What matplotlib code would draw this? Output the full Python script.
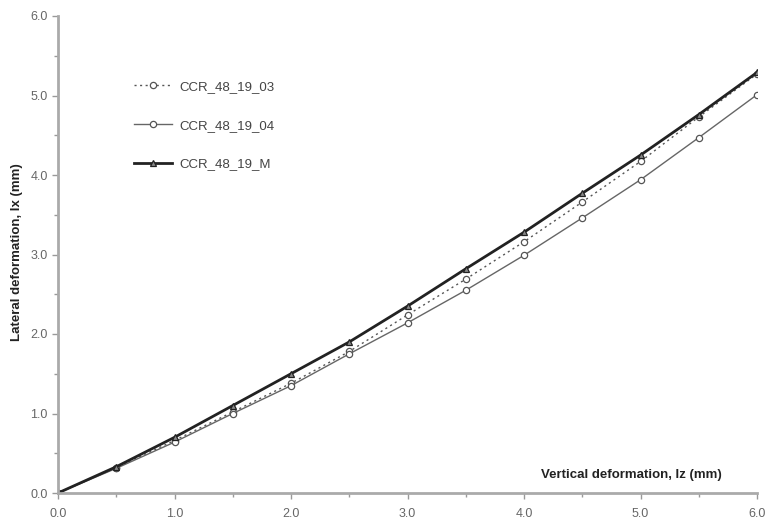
import matplotlib
matplotlib.use("Agg")
import matplotlib.pyplot as plt
from matplotlib.ticker import MultipleLocator

plt.rcParams["font.family"] = ["Liberation Sans", "DejaVu Sans"]

x = [0.0, 0.5, 1.0, 1.5, 2.0, 2.5, 3.0, 3.5, 4.0, 4.5, 5.0, 5.5, 6.0]
s03 = [0.0, 0.32, 0.66, 1.02, 1.38, 1.78, 2.24, 2.69, 3.16, 3.66, 4.17, 4.73, 5.27]
s04 = [0.0, 0.31, 0.64, 1.00, 1.35, 1.75, 2.14, 2.55, 2.99, 3.46, 3.94, 4.47, 5.01]
sM = [0.0, 0.33, 0.70, 1.10, 1.50, 1.90, 2.35, 2.82, 3.28, 3.77, 4.25, 4.76, 5.29]
labels = ["CCR_48_19_03", "CCR_48_19_04", "CCR_48_19_M"]
xticks = [0, 1, 2, 3, 4, 5, 6]
yticks = [0, 1, 2, 3, 4, 5, 6]

fig = plt.figure(figsize=(7.66, 5.23), dpi=100)
ax = fig.add_axes([58/766, 30/523, (757-58)/766, (493-16)/523])

ax.plot(x, s03, linestyle=(0, (1.5, 2.5)), color="#555555", lw=1.0,
        marker="o", ms=4.5, mfc="white", mec="#555555", mew=0.9, label=labels[0])
ax.plot(x, s04, linestyle="-", color="#666666", lw=1.0,
        marker="o", ms=4.5, mfc="white", mec="#555555", mew=0.9, label=labels[1])
ax.plot(x, sM, linestyle="-", color="#222222", lw=2.0,
        marker="^", ms=4.5, mfc="#888888", mec="#222222", mew=0.9, label=labels[2])

ax.set_xlim(0, 6)
ax.set_ylim(0, 6)
ax.set_xticks(xticks)
ax.set_yticks(yticks)
ax.set_xticklabels([f"{v:.1f}" for v in xticks])
ax.set_yticklabels([f"{v:.1f}" for v in yticks])
ax.xaxis.set_minor_locator(MultipleLocator(0.5))
ax.yaxis.set_minor_locator(MultipleLocator(0.5))
for s in ["top", "right"]:
    ax.spines[s].set_visible(False)
for s in ["left", "bottom"]:
    ax.spines[s].set_color("#aaaaaa")
    ax.spines[s].set_linewidth(2.0)
ax.tick_params(which="both", direction="out", color="#999999", labelcolor="#666666",
               labelsize=9, width=1.0)
ax.tick_params(which="major", length=4)
ax.tick_params(which="minor", length=3)
ax.tick_params(axis="x", pad=7)

fig.text(631/766, 1 - 475/523, "Vertical deformation, lz (mm)", ha="center", va="center",
         fontsize=9.5, fontweight="bold", color="#222222")
fig.text(17/766, 1 - 252/523, "Lateral deformation, lx (mm)", ha="center", va="center",
         rotation=90, fontsize=9.5, fontweight="bold", color="#222222")

leg = ax.legend(loc="upper left", bbox_to_anchor=(122/766, 1 - 69/523),
                bbox_transform=fig.transFigure, frameon=False, fontsize=9.5,
                labelspacing=2.0, handlelength=2.9, handletextpad=0.55)
for t in leg.get_texts():
    t.set_color("#444444")

fig.savefig("out.png", dpi=100)
